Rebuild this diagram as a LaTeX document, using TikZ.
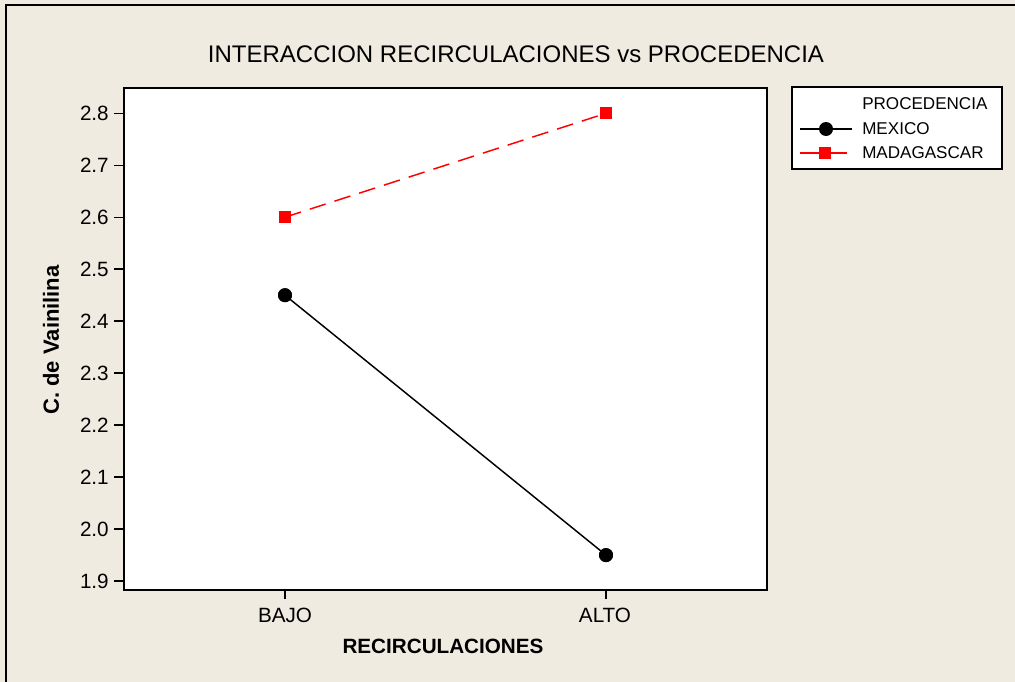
\documentclass[tikz,border=0pt]{standalone}
\usepackage{fontspec}
\setmainfont{Liberation Sans}
\definecolor{bgc}{RGB}{239,235,225}
\definecolor{redc}{RGB}{255,0,0}
\begin{document}
\begin{tikzpicture}[x=0.75pt,y=-0.75pt,
  ticklab/.style={font=\fontsize{15.5}{16}\selectfont, inner sep=0pt},
  leglab/.style={font=\fontsize{12.8}{13}\selectfont, anchor=west, inner sep=0pt},
  mexmark/.style={circle, fill=black, draw=none, minimum size=10.5pt, inner sep=0pt},
  madmark/.style={rectangle, fill=redc, draw=none, minimum size=9pt, inner sep=0pt},
  mexline/.style={black, line width=1.1pt},
  madline/.style={redc, line width=1.1pt, dash pattern=on 12.5pt off 7pt}]
\useasboundingbox (0,0) rectangle (1015,682);
\fill[bgc] (0,0) rectangle (1015,682);
% outer frame (left and top visible)
\draw[line width=1.5pt] (6,690) -- (6,5) -- (1020,5);
% plot area
\draw[fill=white, line width=1.5pt] (124,88) rectangle (767,590);
% title
\node[font=\fontsize{18}{19}\selectfont, inner sep=0pt] (title) at (516,54) {INTERACCION RECIRCULACIONES vs PROCEDENCIA};
% y ticks
\foreach \v/\lab in {2.8/2.8,2.7/2.7,2.6/2.6,2.5/2.5,2.4/2.4,2.3/2.3,2.2/2.2,2.1/2.1,2.0/2.0,1.9/1.9}{
  \pgfmathsetmacro{\yy}{113.3+(2.8-\v)*519.7}
  \draw[line width=1.1pt] (114,\yy) -- (124,\yy);
  \node[ticklab, anchor=east] at (109,\yy) {\lab};
}
% x ticks
\draw[line width=1.1pt] (285,590) -- (285,599);
\draw[line width=1.1pt] (606,590) -- (606,599);
\node[ticklab] (bajo) at (285,615) {BAJO};
\node[ticklab] (alto) at (605,615) {ALTO};
% axis labels
\node[font=\bfseries\fontsize{15.5}{16}\selectfont, inner sep=0pt] (xlab) at (443,646) {RECIRCULACIONES};
\node[font=\bfseries\fontsize{16.5}{17}\selectfont, inner sep=0pt, rotate=90] (ylab) at (51,340) {C. de Vainilina};
% data
\node[madmark] (m1) at (285,217.2) {};
\node[madmark] (m2) at (606,113.3) {};
\node[mexmark] (x1) at (285,295.2) {};
\node[mexmark] (x2) at (606,555.1) {};
\draw[madline] (m1.center) -- (m2.center);
\draw[mexline] (x1.center) -- (x2.center);
\node[madmark] at (285,217.2) {};
\node[madmark] at (606,113.3) {};
\node[mexmark] at (285,295.2) {};
\node[mexmark] at (606,555.1) {};
% legend
\draw[fill=white, line width=1.3pt] (792,87) rectangle (1002,169);
\node[leglab] (lhead) at (862,104) {PROCEDENCIA};
\coordinate (la1) at (800,129);
\coordinate (lb1) at (852,129);
\draw[mexline] (la1) -- (lb1);
\node[mexmark] (lm1) at (826,129) {};
\node[leglab] (lmex) at (862,129) {MEXICO};
\coordinate (la2) at (800,153);
\coordinate (lb2) at (847,153);
\draw[redc, line width=1.1pt] (la2) -- (lb2);
\node[madmark] (lm2) at (825,153) {};
\node[leglab] (lmad) at (862,153) {MADAGASCAR};
\end{tikzpicture}
\end{document}
